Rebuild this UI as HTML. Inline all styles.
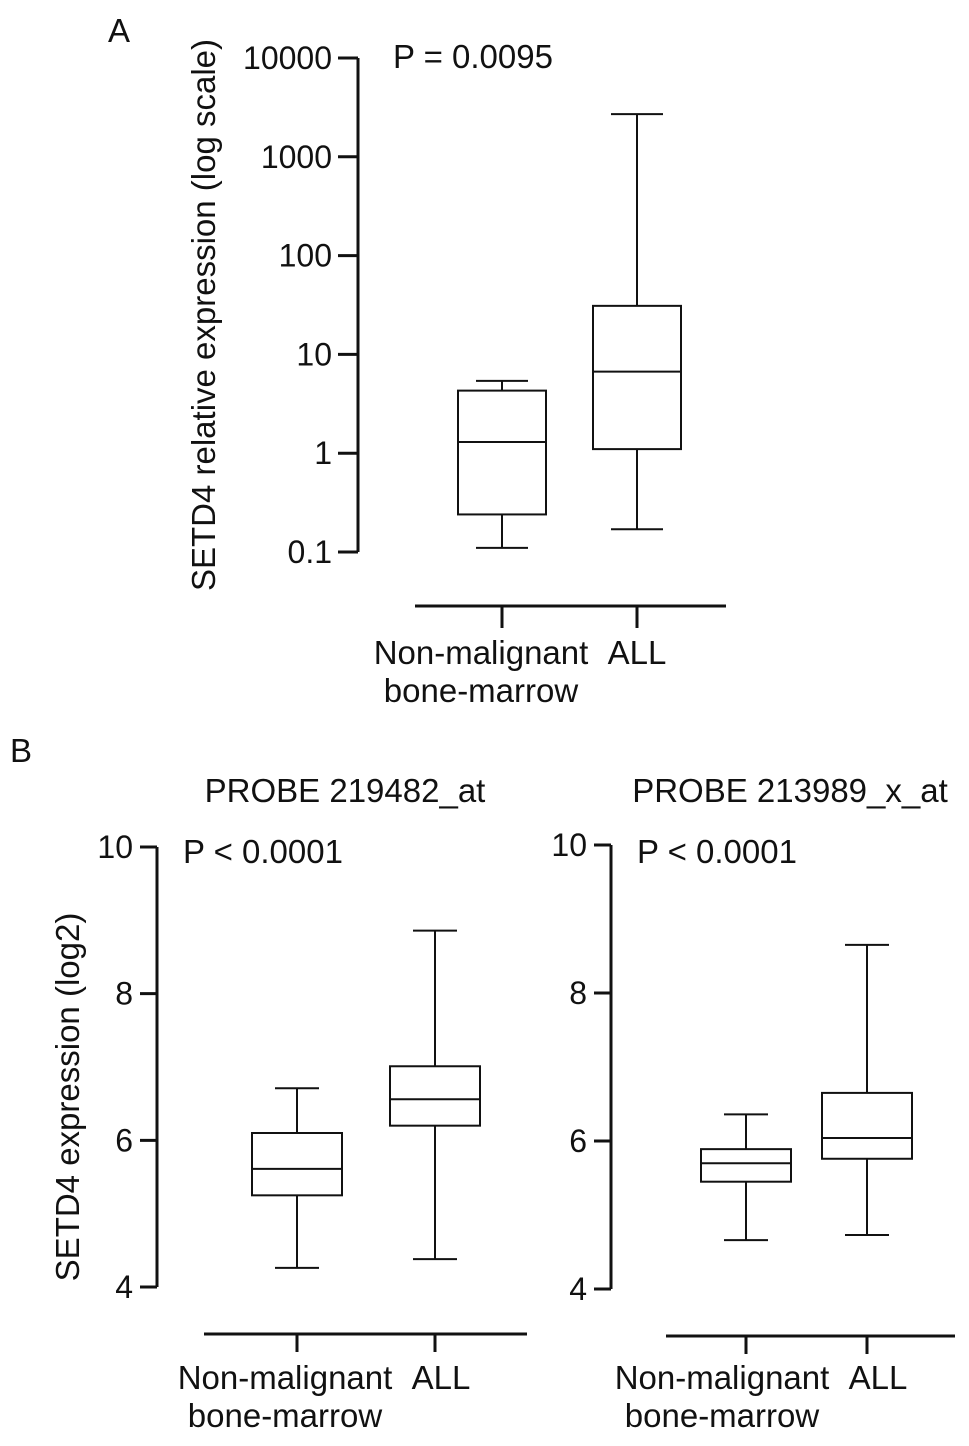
<!DOCTYPE html>
<html><head><meta charset="utf-8"><style>
body{margin:0;background:#fff}
svg text{font-family:"Liberation Sans",Arial,sans-serif;fill:#111}
</style></head><body>
<svg id="c" width="969" height="1441" viewBox="0 0 969 1441"></svg>
<script>
// Panel A data (log scale)
const aCats=["Non-malignant bone-marrow","ALL"];
const aMin=[0.11,0.17];
const aQ1=[0.24,1.1];
const aMed=[1.3,6.7];
const aQ3=[4.3,31];
const aMax=[5.4,2700];
const aTicks=[0.1,1,10,100,1000,10000];
const aTickLabels=["0.1","1","10","100","1000","10000"];
// Panel B left (probe 219482_at)
const bMin=[4.26,4.38];
const bQ1=[5.25,6.2];
const bMed=[5.61,6.56];
const bQ3=[6.1,7.01];
const bMax=[6.71,8.86];
// Panel B right (probe 213989_x_at)
const cMin=[4.66,4.73];
const cQ1=[5.45,5.76];
const cMed=[5.70,6.04];
const cQ3=[5.89,6.65];
const cMax=[6.36,8.65];
const bTicks=[4,6,8,10];

const svg=document.getElementById('c');
const NS="http://www.w3.org/2000/svg";
function el(tag,attrs,name,text){
  const e=document.createElementNS(NS,tag);
  for(const k in attrs)e.setAttribute(k,attrs[k]);
  
  
  if(text!==undefined)e.textContent=text;
  svg.appendChild(e);return e;
}
function line(x1,y1,x2,y2,w,name){return el('line',{x1,y1,x2,y2,stroke:'#111','stroke-width':w},name);}
function txt(x,y,s,size,anchor,name,extra){const a=Object.assign({x,y,'font-size':size,'text-anchor':anchor||'start'},extra||{});return el('text',a,name,s);}

function drawBoxes(ys,xs,bw,cw,mins,q1,med,q3,max,prefix){
  for(let i=0;i<xs.length;i++){
    const cx=xs[i];
    line(cx,ys(max[i]),cx,ys(q3[i]),2,prefix+'-whisker-upper-'+i);
    line(cx,ys(q1[i]),cx,ys(mins[i]),2,prefix+'-whisker-lower-'+i);
    line(cx-cw/2,ys(max[i]),cx+cw/2,ys(max[i]),2,prefix+'-cap-upper-'+i);
    line(cx-cw/2,ys(mins[i]),cx+cw/2,ys(mins[i]),2,prefix+'-cap-lower-'+i);
    el('rect',{x:cx-bw/2,y:ys(q3[i]),width:bw,height:ys(q1[i])-ys(q3[i]),fill:'none',stroke:'#111','stroke-width':2},prefix+'-box-'+i);
    line(cx-bw/2,ys(med[i]),cx+bw/2,ys(med[i]),2,prefix+'-median-'+i);
  }
}

// Panel A
const yA=v=>552-(Math.log10(v)+1)*98.8;
txt(108,42,"A",33,'start','panel-a-label');
line(358,yA(10000),358,yA(0.1),3,'panel-a-y-axis');
aTicks.forEach((t,i)=>{line(338,yA(t),358,yA(t),3,'panel-a-y-tick');txt(332,yA(t)+11,aTickLabels[i],32,'end','panel-a-y-tick-label');});
txt(0,0,"SETD4 relative expression (log scale)",33,'middle','panel-a-y-axis-title',{transform:'translate(215,315) rotate(-90)'});
txt(393,68,"P = 0.0095",33,'start','panel-a-p-value');
line(415,606,726,606,3,'panel-a-x-axis');
const aX=[502,637];
aX.forEach((x,i)=>line(x,606,x,628,3,'panel-a-x-tick'));
drawBoxes(yA,aX,88,52,aMin,aQ1,aMed,aQ3,aMax,'panel-a');
txt(481,664,"Non-malignant",33,'middle','panel-a-x-label-nonmalignant');
txt(481,702,"bone-marrow",33,'middle','panel-a-x-label-nonmalignant-2');
txt(637,664,"ALL",33,'middle','panel-a-x-label-all');

// Panel B
txt(10,762,"B",33,'start','panel-b-label');
txt(0,0,"SETD4 expression (log2)",33,'middle','panel-b-y-axis-title',{transform:'translate(79,1097) rotate(-90)'});
function panelB(ax,y10,y4,mins,q1,med,q3,max,xs,xl,xr,title,tcx,prefix,l1,l2){
  const ys=v=>y4-(v-4)*(y4-y10)/6;
  line(ax,y10,ax,y4,3,prefix+'-y-axis');
  bTicks.forEach(t=>{line(ax-17,ys(t),ax,ys(t),3,prefix+'-y-tick');txt(ax-24,ys(t)+11,String(t),32,'end',prefix+'-y-tick-label');});
  txt(tcx,802,title,33,'middle',prefix+'-title');
  txt(ax+26,863,"P < 0.0001",33,'start',prefix+'-p-value');
  const yl=y4+47;
  line(xl,yl,xr,yl,3,prefix+'-x-axis');
  xs.forEach(x=>line(x,yl,x,yl+18,3,prefix+'-x-tick'));
  drawBoxes(ys,xs,90,44,mins,q1,med,q3,max,prefix);
  txt(l1,1389,"Non-malignant",33,'middle',prefix+'-x-label-nonmalignant');
  txt(l1,1427,"bone-marrow",33,'middle',prefix+'-x-label-nonmalignant-2');
  txt(l2,1389,"ALL",33,'middle',prefix+'-x-label-all');
}
panelB(157,847,1287,bMin,bQ1,bMed,bQ3,bMax,[297,435],204,527,"PROBE 219482_at",345,'panel-b-left',285,441);
panelB(611,845,1289,cMin,cQ1,cMed,cQ3,cMax,[746,867],666,955,"PROBE 213989_x_at",790,'panel-b-right',722,878);
</script>
</body></html>
